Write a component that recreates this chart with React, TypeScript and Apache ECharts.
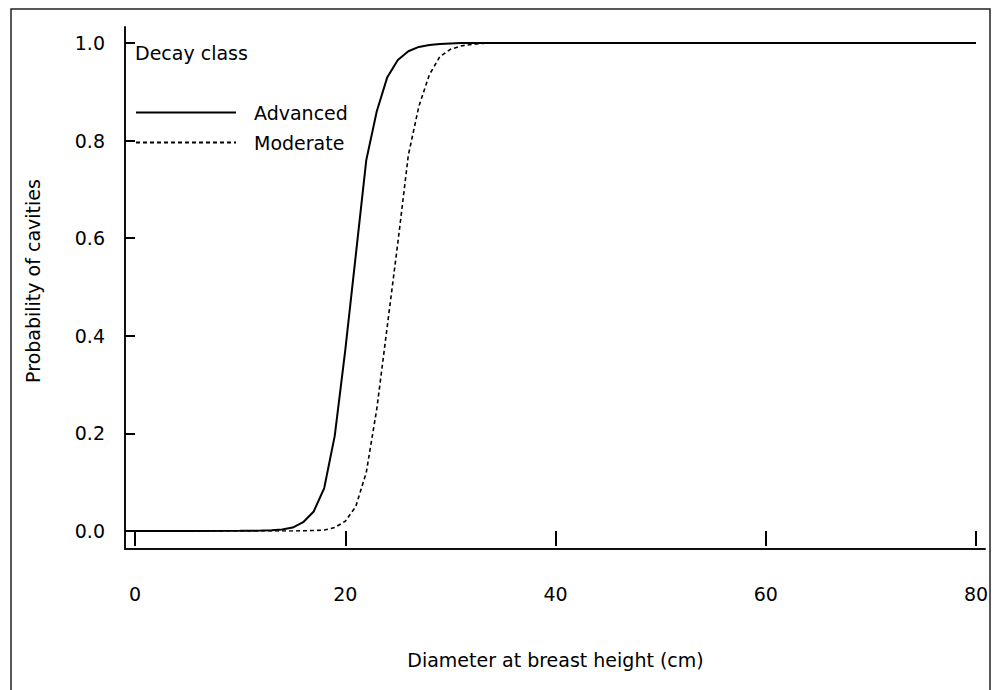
import React, { useEffect, useRef } from "react";
import * as echarts from "echarts";

const dbh = [0, 5, 10, 12, 13, 14, 15, 16, 17, 18, 19, 20, 21, 22, 23, 24, 25, 26, 27, 28, 29, 30, 31, 32, 33, 34, 35, 40, 50, 60, 70, 80];
const advanced = [0, 0, 0.0003, 0.0008, 0.0015, 0.003, 0.007, 0.018, 0.04, 0.088, 0.195, 0.37, 0.565, 0.76, 0.86, 0.93, 0.965, 0.983, 0.992, 0.996, 0.998, 0.999, 1, 1, 1, 1, 1, 1, 1, 1, 1, 1];
const moderate = [0, 0, 0, 0, 0, 0, 0, 0.0003, 0.001, 0.002, 0.007, 0.02, 0.05, 0.12, 0.25, 0.42, 0.59, 0.77, 0.87, 0.935, 0.972, 0.987, 0.994, 0.997, 0.999, 1, 1, 1, 1, 1, 1, 1];
const xTicks = [0, 20, 40, 60, 80];
const yTicks = [0, 0.2, 0.4, 0.6, 0.8, 1.0];
const seriesNames = ["Advanced", "Moderate"];
const legendTitle = "Decay class";
const xTitle = "Diameter at breast height (cm)";
const yTitle = "Probability of cavities";

const FONT = "DejaVu Sans";
const FS = 19;

export default function App() {
  const ref = useRef<HTMLDivElement>(null);
  useEffect(() => {
    if (!ref.current) return;
    const chart = echarts.init(ref.current, undefined, { renderer: "svg" });
    const textStyle = { fontFamily: FONT, fontSize: FS, color: "#000" };
    chart.setOption({
      animation: false,
      backgroundColor: "#fff",
      grid: [
        { left: 135, right: 21, top: 43, bottom: 159 },
        { left: 125, right: 12, top: 27, bottom: 141 },
      ],
      xAxis: [
        {
          type: "value",
          gridIndex: 0,
          min: xTicks[0],
          max: xTicks[xTicks.length - 1],
          interval: 20,
          offset: 18,
          axisLine: { show: false },
          axisTick: { show: true, length: 15, lineStyle: { color: "#000", width: 2 } },
          axisLabel: { ...textStyle, margin: 35, formatter: (v: number) => String(v) },
          splitLine: { show: false },
          name: xTitle,
          nameLocation: "middle",
          nameGap: 101,
          nameTextStyle: textStyle,
        },
        {
          type: "value",
          gridIndex: 1,
          min: 0,
          max: 1,
          axisLine: { show: true, onZero: false, lineStyle: { color: "#111", width: 2 } },
          axisTick: { show: false },
          axisLabel: { show: false },
          splitLine: { show: false },
        },
      ],
      yAxis: [
        {
          type: "value",
          gridIndex: 0,
          min: yTicks[0],
          max: yTicks[yTicks.length - 1],
          interval: 0.2,
          offset: 10,
          axisLine: { show: false },
          axisTick: { show: true, length: 10, lineStyle: { color: "#000", width: 2 } },
          axisLabel: { ...textStyle, margin: 20, formatter: (v: number) => v.toFixed(1) },
          splitLine: { show: false },
          name: yTitle,
          nameLocation: "middle",
          nameGap: 83,
          nameTextStyle: { ...textStyle, padding: [0, 0, 0, 12] },
        },
        {
          type: "value",
          gridIndex: 1,
          min: 0,
          max: 1,
          axisLine: { show: true, onZero: false, lineStyle: { color: "#111", width: 2 } },
          axisTick: { show: false },
          axisLabel: { show: false },
          splitLine: { show: false },
        },
      ],
      legend: {
        orient: "vertical",
        left: 135,
        top: 103,
        padding: 0,
        itemWidth: 100,
        itemHeight: 20,
        itemGap: 11,
        data: seriesNames,
        itemStyle: { opacity: 0 },
        textStyle: { ...textStyle, padding: [0, 0, 0, 13] },
      },
      graphic: [
        {
          type: "rect",
          silent: true,
          shape: { x: 11, y: 9, width: 979, height: 720 },
          style: { fill: "none", stroke: "#222", lineWidth: 1.5 },
        },
        {
          type: "text",
          x: 135,
          y: 53,
          silent: true,
          style: { text: legendTitle, fill: "#000", font: `${FS}px "${FONT}"`, verticalAlign: "middle", align: "left" },
        },
      ],
      series: [
        {
          name: seriesNames[0],
          type: "line",
          xAxisIndex: 0,
          yAxisIndex: 0,
          symbol: "none",
          data: dbh.map((x, i) => [x, advanced[i]]),
          lineStyle: { color: "#000", width: 2, type: "solid" },
          itemStyle: { color: "#000" },
        },
        {
          name: seriesNames[1],
          type: "line",
          xAxisIndex: 0,
          yAxisIndex: 0,
          symbol: "none",
          data: dbh.map((x, i) => [x, moderate[i]]),
          lineStyle: { color: "#000", width: 1.6, type: [4, 3] },
          itemStyle: { color: "#000" },
        },
      ],
    });
    return () => chart.dispose();
  }, []);
  return <div ref={ref} style={{ position: "fixed", left: 0, top: 0, width: 997, height: 690 }} />;
}
